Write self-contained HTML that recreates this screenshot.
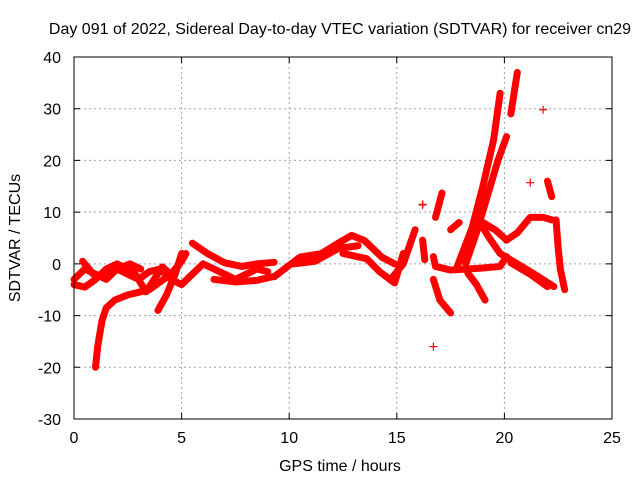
<!DOCTYPE html>
<html><head><meta charset="utf-8"><style>
body{margin:0;background:#fff}
svg{display:block;font-family:"Liberation Sans",sans-serif}
</style></head><body>
<svg id="chart" width="640" height="480">
<text x="340" y="34" text-anchor="middle" font-size="16">Day 091 of 2022, Sidereal Day-to-day VTEC variation (SDTVAR) for receiver cn29</text>
<text x="340" y="471" text-anchor="middle" font-size="16">GPS time / hours</text>
<text transform="translate(20,238) rotate(-90)" text-anchor="middle" font-size="16">SDTVAR / TECUs</text>
<g id="grid"></g>
<g id="marks"></g>
<rect x="74" y="57" width="538" height="362" fill="none" stroke="#000"/>
</svg>
<script>
const xTicks=[0,5,10,15,20,25];
const yTicks=[-30,-20,-10,0,10,20,30,40];
const trackA=[[1.0,-20],[1.1,-16],[1.3,-11],[1.5,-8.5],[1.9,-7],[2.5,-6],[3.0,-5.5],[3.5,-5],[4.0,-3.5],[4.5,-2],[5.0,0.5],[5.2,2]];
const trackB=[[0,-3],[0.5,-1],[1,-2],[1.5,-3],[2,-1],[2.5,-2],[3,-3],[3.5,-1.5],[4,-1],[4.5,-3],[5,-4],[5.5,-2],[6,0],[6.5,-1],[7,-2],[7.5,-3],[8,-2],[8.5,-1],[9,-1.5]];
const trackC=[[0,-4],[0.5,-4.5],[1,-3],[1.5,-1],[2,0],[2.5,-1],[2.8,-1.7],[3.35,-5.4],[4.1,-0.6],[4.5,-2]];
const trackD=[[3.9,-9],[4.3,-6],[4.7,-2],[5.0,2]];
const trackE=[[0.4,0.5],[0.9,-2],[1.5,-2.5],[2.0,-1],[2.6,0],[3.1,-1]];
const trackF=[[5.5,4],[6.2,2],[7.0,0.2],[7.8,-0.5],[8.5,0],[9.3,0.3]];
const trackG=[[6.5,-3],[7.5,-3.5],[8.5,-3.2],[9.2,-2.5]];
const trackH=[[9.3,-2.5],[10.5,1.3],[11.5,2],[12.2,3.8],[12.9,5.5],[13.5,4.5],[14.3,1.3],[14.9,0]];
const trackI=[[12.5,2],[13.6,1],[14.2,-1.5],[14.9,-3.7],[15.3,2]];
const trackJ=[[10.2,0],[11.2,0.5],[12.3,3],[13.2,3.5]];
const trackK=[[14.7,-3.1],[15.3,0],[15.85,6.6]];
const trackL=[[17.8,-0.6],[18.5,7],[19.0,15],[19.5,24],[19.8,33]];
const trackM=[[18.2,0],[18.7,6],[19.2,13],[19.7,20],[20.1,24.6]];
const trackN=[[20.3,29],[20.6,37]];
const trackO=[[18.7,9],[19.3,5],[19.8,2],[20.2,1],[21.2,-1.5],[22.3,-4.4]];
const trackP=[[19.0,8],[19.6,6.5],[20.1,4.6]];
const trackQ=[[20.1,4.6],[20.6,6],[21.2,9],[21.8,9],[22.2,8.5]];
const trackR=[[16.7,1.4],[16.8,-0.5],[17.5,-1.2],[18.3,-1],[19.0,-0.8],[19.8,-0.5],[20.1,1.4]];
const trackS=[[18.3,-1.8],[18.7,-4],[19.1,-7]];
const trackT=[[16.7,-3],[17.0,-7],[17.5,-9.5]];
const trackU=[[22.4,8.5],[22.5,3],[22.6,-1],[22.8,-5]];
const trackV=[[22.0,16],[22.2,13]];
const trackW=[[20.3,0.2],[21.2,-2],[22.0,-4.4]];
const trackX=[[17.1,13.7],[16.8,9]];
const trackY=[[17.5,6.6],[17.9,8]];
const trackZ=[[16.2,4.6],[16.3,0.8]];
const isoT=[16.7,16.2,21.2,21.8,16.2];
const isoV=[-16,11.4,15.7,29.8,11.5];
const tracks=[trackA,trackB,trackC,trackD,trackE,trackF,trackG,trackH,trackI,trackJ,trackK,trackL,trackM,trackN,trackO,trackP,trackQ,trackR,trackS,trackT,trackU,trackV,trackW,trackX,trackY,trackZ];
const X0=74,X1=612,Y0=419,Y1=57,XMIN=0,XMAX=25,YMIN=-30,YMAX=40;
function sx(v){return X0+(v-XMIN)/(XMAX-XMIN)*(X1-X0);}
function sy(v){return Y0-(v-YMIN)/(YMAX-YMIN)*(Y0-Y1);}
const NS="http://www.w3.org/2000/svg";
const svg=document.getElementById('chart');
const grid=document.getElementById('grid');
const marks=document.getElementById('marks');
function mk(t,a,p){const e=document.createElementNS(NS,t);for(const k in a)e.setAttribute(k,a[k]);p.appendChild(e);return e;}
xTicks.forEach(t=>{
 const x=sx(t);
 if(t>XMIN&&t<XMAX){const g=mk('line',{x1:x,y1:Y0,x2:x,y2:Y1,stroke:'#a0a0a0','stroke-dasharray':'2,3'},grid);
 
 }
 const tk=mk('path',{d:`M${x},${Y0}v-6M${x},${Y1}v6`,stroke:'#000'},svg);
 
 
 const l=mk('text',{x:x,y:Y0+24,'text-anchor':'middle','font-size':16},svg);
 l.textContent=t;
 
 
});
yTicks.forEach(t=>{
 const y=sy(t);
 if(t>YMIN&&t<YMAX){const g=mk('line',{x1:X0,y1:y,x2:X1,y2:y,stroke:'#a0a0a0','stroke-dasharray':'2,3'},grid);
 
 }
 const tk=mk('path',{d:`M${X0},${y}h6M${X1},${y}h-6`,stroke:'#000'},svg);
 
 
 const l=mk('text',{x:X0-13,y:y+6,'text-anchor':'end','font-size':16},svg);
 l.textContent=t;
 
 
});
tracks.forEach(tr=>{
 const pl=mk('polyline',{points:tr.map(p=>sx(p[0])+','+sy(p[1])).join(' '),fill:'none',stroke:'#ff0000','stroke-width':7,'stroke-linejoin':'round','stroke-linecap':'round'},marks);
 
 
});
isoT.forEach((t,i)=>{
 const x=sx(t),y=sy(isoV[i]);
 const c=mk('path',{d:`M${x-4},${y}h8M${x},${y-4}v8`,stroke:'#ff0000','stroke-width':1.2},marks);
 
 
});
</script>
</body></html>
